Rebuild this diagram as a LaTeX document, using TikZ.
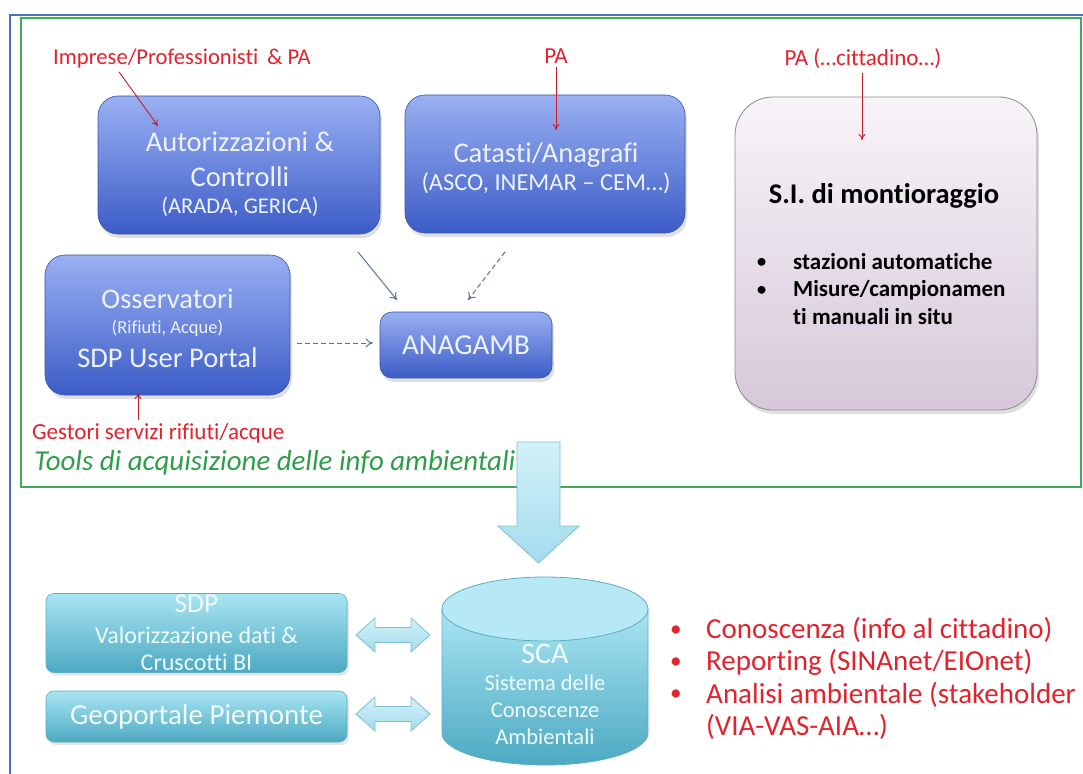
\documentclass[tikz,border=0pt]{standalone}
\usepackage{fontspec}
\setmainfont{Carlito}[Ligatures=NoCommon]
\usetikzlibrary{arrows.meta,shadows}
\definecolor{frameblue}{HTML}{4472C4}
\definecolor{framegreen}{HTML}{3DAA5C}
\definecolor{boxtop}{HTML}{9AB0F3}
\definecolor{boxbot}{HTML}{3C5CC6}
\definecolor{boxline}{HTML}{3A55A8}
\definecolor{boxtext}{HTML}{EEF2FF}
\definecolor{cytop}{HTML}{A9E5F3}
\definecolor{cybot}{HTML}{4CA9C2}
\definecolor{cyline}{HTML}{5AAEC4}
\definecolor{cytext}{HTML}{F0FAFD}
\definecolor{sitop}{HTML}{F7F4F8}
\definecolor{sibot}{HTML}{D6C8DA}
\definecolor{redtxt}{HTML}{E4222C}
\definecolor{greentxt}{HTML}{2E9E48}
\definecolor{arrowblue}{HTML}{5B6FA0}
\definecolor{bigtop}{HTML}{D3F1F8}
\definecolor{bigbot}{HTML}{A3DCEC}
\definecolor{bigline}{HTML}{7DBFD3}
\newcommand{\smallbullet}[1]{\makebox[#1][l]{\raisebox{0.08em}{\scalebox{0.8}{•}}}}
\tikzset{
  bluebox/.style={rounded corners=20pt, draw=boxline, line width=0.6pt,
    top color=boxtop, bottom color=boxbot, inner sep=0pt,
    drop shadow={opacity=0.25, shadow xshift=2pt, shadow yshift=-4pt}},
  bluetext/.style={text=boxtext, align=center, inner sep=0pt},
  cyanbox/.style={rounded corners=8pt, draw=cyline, line width=0.6pt,
    top color=cytop, bottom color=cybot, text=cytext, align=center,
    inner sep=0pt, drop shadow={opacity=0.2, shadow xshift=2pt, shadow yshift=-3pt}},
  cyantext/.style={text=cytext, align=center, inner sep=0pt},
  sibox/.style={rounded corners=38pt, draw=black!45, line width=0.8pt,
    top color=sitop, bottom color=sibot, inner sep=0pt,
    drop shadow={opacity=0.25, shadow xshift=2pt, shadow yshift=-4pt}},
  redlabel/.style={text=redtxt, font=\fontsize{23}{26}\selectfont, inner sep=0pt},
  redarrow/.style={draw=redtxt!85!black, line width=0.9pt, -{To[length=6pt,width=7pt]}},
  bluearrow/.style={draw=arrowblue, line width=1pt, -{To[length=7pt,width=9pt]}},
  blockarrow/.style={draw=bigline, line width=0.8pt, top color=bigtop, bottom color=bigbot},
}
\begin{document}
\begin{tikzpicture}[x=1pt,y=-1pt]
\useasboundingbox (0,0) rectangle (1083,773);
\fill[white] (0,0) rectangle (1083,773);
% frames
\draw[frameblue, line width=1.5pt] (10,780) -- (10,15) -- (1090,15);
\draw[framegreen, line width=1.5pt] (21,18) rectangle (1081,487);

% top boxes
\node[bluebox, minimum width=282pt, minimum height=138pt] (aut) at (239,165) {};
\node[bluetext, font=\fontsize{28.5}{35}\selectfont] (auttext) at (240,174)
  {Autorizzazioni \&\\ Controlli\\[-8pt]
   {\fontsize{22.5}{26}\selectfont (ARADA, GERICA)}};
\node[bluebox, minimum width=280pt, minimum height=138pt] (cat) at (545,164) {};
\node[bluetext, font=\fontsize{28.5}{28.5}\selectfont] (cattext) at (546,168.5)
  {Catasti/Anagrafi\\ {\fontsize{24.5}{28}\selectfont (ASCO, INEMAR – CEM…)}};
\node[bluebox, minimum width=245pt, minimum height=140pt] (oss) at (167.5,325) {};
\node[bluetext, font=\fontsize{28.5}{30}\selectfont] (osstext) at (167.5,328)
  {Osservatori\\[-5pt] {\fontsize{18.5}{22}\selectfont (Rifiuti, Acque)}\\[4pt] SDP User Portal};
\node[bluebox, minimum width=172pt, minimum height=66pt, rounded corners=12pt,
      text=boxtext, font=\fontsize{29}{32}\selectfont] (ana) at (466,345) {ANAGAMB};
\node[sibox, minimum width=302pt, minimum height=313pt] (si) at (886,253.5) {};
\node[font=\bfseries\fontsize{28.5}{32}\selectfont, inner sep=0pt] (sititle) at (884,196) {S.I. di montioraggio};
\node[font=\bfseries\fontsize{23}{27.5}\selectfont, inner sep=0pt, align=left, anchor=north west] (silist) at (757,253)
  {\smallbullet{36pt}stazioni automatiche\\
   \smallbullet{36pt}Misure/campionamen\\
   \makebox[36pt][l]{}ti manuali in situ};

% red labels and arrows
\node[redlabel, anchor=west, font=\fontsize{22.6}{26}\selectfont] (imp) at (53,58) {Imprese/Professionisti \,\& PA};
\node[redlabel] (pa1) at (556,56) {PA};
\node[redlabel] (pa2) at (863,59) {PA (…cittadino…)};
\node[redlabel, anchor=west] (gest) at (32,433) {Gestori servizi rifiuti/acque};
\coordinate (autin) at (158,126);
\coordinate (catin) at (556,130);
\coordinate (siin) at (862,140);
\coordinate (ossin) at (138,393);
\draw[redarrow] (imp.south west) ++(66,4) -- (autin);
\draw[redarrow] (pa1.south) ++(0,3) -- (catin);
\draw[redarrow] (pa2.south) ++(-1,4) -- (siin);
\draw[redarrow] (gest.north west) ++(106,-3) -- (ossin);

% blue arrows to ANAGAMB
\coordinate (s1) at (358,252);
\coordinate (e1) at (397,300);
\coordinate (s2) at (505,252);
\coordinate (e2) at (468,300);
\draw[bluearrow] (s1) -- (e1);
\draw[bluearrow, dashed, dash pattern=on 5pt off 3pt] (s2) -- (e2);
\draw[bluearrow, dashed, dash pattern=on 5pt off 3pt] (oss.east |- ana.west) ++(7,-2) -- ([xshift=-7pt, yshift=2pt]ana.west);

% green title
\node[text=greentxt, font=\itshape\fontsize{28.9}{32}\selectfont, anchor=west, inner sep=0pt] (tools) at (34,463)
  {Tools di acquisizione delle info ambientali};

% big down arrow
\path[blockarrow] (517,442) -- (560,442) -- (560,526) -- (579,526) -- (538.5,563)
  -- (498,526) -- (517,526) -- cycle;

% cylinder SCA
\path[draw=cyline, line width=0.8pt, top color=cytop, bottom color=cybot]
  (442,609) -- (442,733) arc[start angle=180, end angle=0, x radius=103, y radius=32]
  -- (648,609) -- cycle;
\draw[cyline, line width=0.8pt, fill=cytop!85!white] (545,609) ellipse [x radius=103, y radius=32];
\node[cyantext, font=\fontsize{22.5}{27}\selectfont] (sca) at (545,694)
  {{\fontsize{30}{32}\selectfont SCA}\\ Sistema delle\\ Conoscenze\\ Ambientali};

% bottom boxes
\node[cyanbox, minimum width=301pt, minimum height=79pt] (sdp) at (196.5,633) {};
\node[cyantext, font=\fontsize{24}{27}\selectfont] (sdptext) at (196.5,632.5)
  {{\fontsize{27.5}{28}\selectfont SDP}\\[3.8pt] Valorizzazione dati \&\\ Cruscotti BI};
\node[cyanbox, minimum width=301pt, minimum height=51pt, font=\fontsize{29}{32}\selectfont] (geo) at (196.5,716.5)
  {Geoportale Piemonte};

% double arrows
\path[blockarrow] (356,635) -- (375,618) -- (375,627.5) -- (411,627.5) -- (411,618) -- (430,635)
  -- (411,652) -- (411,642.5) -- (375,642.5) -- (375,652) -- cycle;
\path[blockarrow] (356,714) -- (375,697) -- (375,706.5) -- (411,706.5) -- (411,697) -- (430,714)
  -- (411,731) -- (411,721.5) -- (375,721.5) -- (375,731) -- cycle;

% red bullet list
\node[text=redtxt, font=\fontsize{29}{32.4}\selectfont, align=left, anchor=north west, inner sep=0pt] (uses) at (670,617)
  {\smallbullet{36pt}Conoscenza (info al cittadino)\\
   \smallbullet{36pt}Reporting (SINAnet/EIOnet)\\
   \smallbullet{36pt}Analisi ambientale (stakeholder\\
   \makebox[36pt][l]{}(VIA-VAS-AIA…)};
\end{tikzpicture}
\end{document}
